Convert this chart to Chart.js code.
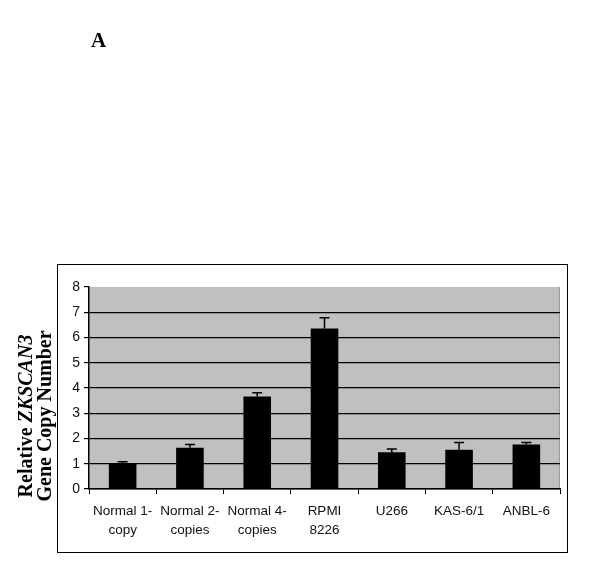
<!DOCTYPE html>
<html>
<head>
<meta charset="utf-8">
<script src="https://cdn.jsdelivr.net/npm/chart.js@4/dist/chart.umd.min.js"></script>
<style>
  html, body { margin: 0; padding: 0; background: #fff; }
  #wrap { width: 600px; height: 579px; position: relative; }
</style>
</head>
<body>
<div id="wrap"><canvas id="canvas"></canvas></div>
<script>
var cellLines = [
  ["Normal 1-", "copy"],
  ["Normal 2-", "copies"],
  ["Normal 4-", "copies"],
  ["RPMI", "8226"],
  "U266",
  "KAS-6/1",
  "ANBL-6"
];
var copyNumber = [1.0, 1.63, 3.66, 6.36, 1.46, 1.55, 1.76];
var errorUp = [0.08, 0.13, 0.15, 0.42, 0.12, 0.29, 0.08];
var yTicks = [0, 1, 2, 3, 4, 5, 6, 7, 8];

// grey plot background, outer frame and panel letter
var decorPlugin = {
  id: "decor",
  beforeDraw: function(chart) {
    var ctx = chart.ctx;
    var a = chart.chartArea;
    ctx.save();
    ctx.fillStyle = "#c0c0c0";
    ctx.fillRect(a.left, a.top, a.right - a.left, a.bottom - a.top);
    ctx.strokeStyle = "#9a9a9a";
    ctx.lineWidth = 1;
    ctx.beginPath();
    ctx.moveTo(a.right - 0.5, a.top);
    ctx.lineTo(a.right - 0.5, a.bottom);
    ctx.stroke();
    // outer box
    ctx.strokeStyle = "#000";
    ctx.strokeRect(57.5, 264.5, 510, 288);
    // panel letter
    ctx.fillStyle = "#000";
    ctx.font = "bold 21px 'Liberation Serif', 'Times New Roman', serif";
    ctx.textBaseline = "alphabetic";
    ctx.fillText("A", 91, 47);
    // y-axis title (two lines, rotated)
    ctx.translate(0, 416);
    ctx.rotate(-Math.PI / 2);
    ctx.textBaseline = "middle";
    var f1 = "bold 20px 'Liberation Serif', 'Times New Roman', serif";
    var f2 = "bold italic 20px 'Liberation Serif', 'Times New Roman', serif";
    ctx.font = f1;
    var w1 = ctx.measureText("Relative ").width;
    ctx.font = f2;
    var w2 = ctx.measureText("ZKSCAN3").width;
    var x0 = -(w1 + w2) / 2;
    ctx.font = f1;
    ctx.fillText("Relative ", x0, 27);
    ctx.font = f2;
    ctx.fillText("ZKSCAN3", x0 + w1, 27);
    ctx.font = f1;
    ctx.textAlign = "center";
    ctx.fillText("Gene Copy Number", 0, 46);
    ctx.restore();
  },
  afterDatasetsDraw: function(chart) {
    // upward error bars with caps
    var ctx = chart.ctx;
    var xs = chart.scales.x, ys = chart.scales.y;
    ctx.save();
    ctx.strokeStyle = "#000";
    ctx.lineWidth = 1.5;
    for (var i = 0; i < copyNumber.length; i++) {
      var x = xs.getPixelForValue(i);
      var y1 = ys.getPixelForValue(copyNumber[i]);
      var y2 = ys.getPixelForValue(copyNumber[i] + errorUp[i]);
      ctx.beginPath();
      ctx.moveTo(x, y1);
      ctx.lineTo(x, y2);
      ctx.moveTo(x - 5, y2);
      ctx.lineTo(x + 5, y2);
      ctx.stroke();
    }
    ctx.restore();
  }
};

var data = {
  labels: cellLines,
  datasets: [
    {
      data: copyNumber,
      backgroundColor: "#000",
      borderWidth: 0,
      barPercentage: 0.41,
      categoryPercentage: 1.0
    }
  ]
};

var options = {
  responsive: true,
  maintainAspectRatio: false,
  animation: false,
  layout: { padding: { left: 59, top: 287, right: 40, bottom: 40 } },
  plugins: { legend: { display: false }, tooltip: { enabled: false } },
  scales: {
    x: {
      grid: { offset: true, drawOnChartArea: false, color: "#000", tickLength: 5 },
      border: { color: "#000", width: 1.5 },
      ticks: { color: "#111", padding: 8, maxRotation: 0,
               font: { family: "'Liberation Sans', Arial, sans-serif", size: 13.5, lineHeight: 1.4 } },
      afterFit: function(s) { s.height = 50; }
    },
    y: {
      min: 0,
      max: 8,
      afterBuildTicks: function(s) { s.ticks = yTicks.map(function(v) { return { value: v }; }); },
      grid: {
        color: function(c) { return c.tick && c.tick.value === 8 ? "rgba(0,0,0,0)" : "#000"; },
        lineWidth: 1.2,
        tickLength: 5,
        tickColor: "#000"
      },
      border: { color: "#000", width: 1.5 },
      ticks: { color: "#111", padding: 4,
               font: { family: "'Liberation Sans', Arial, sans-serif", size: 14 } },
      afterFit: function(s) { s.width = 30; }
    }
  }
};

var ctx = document.getElementById("canvas").getContext("2d");
new Chart(ctx, { type: "bar", data: data, options: options, plugins: [decorPlugin] });
</script>
</body>
</html>
